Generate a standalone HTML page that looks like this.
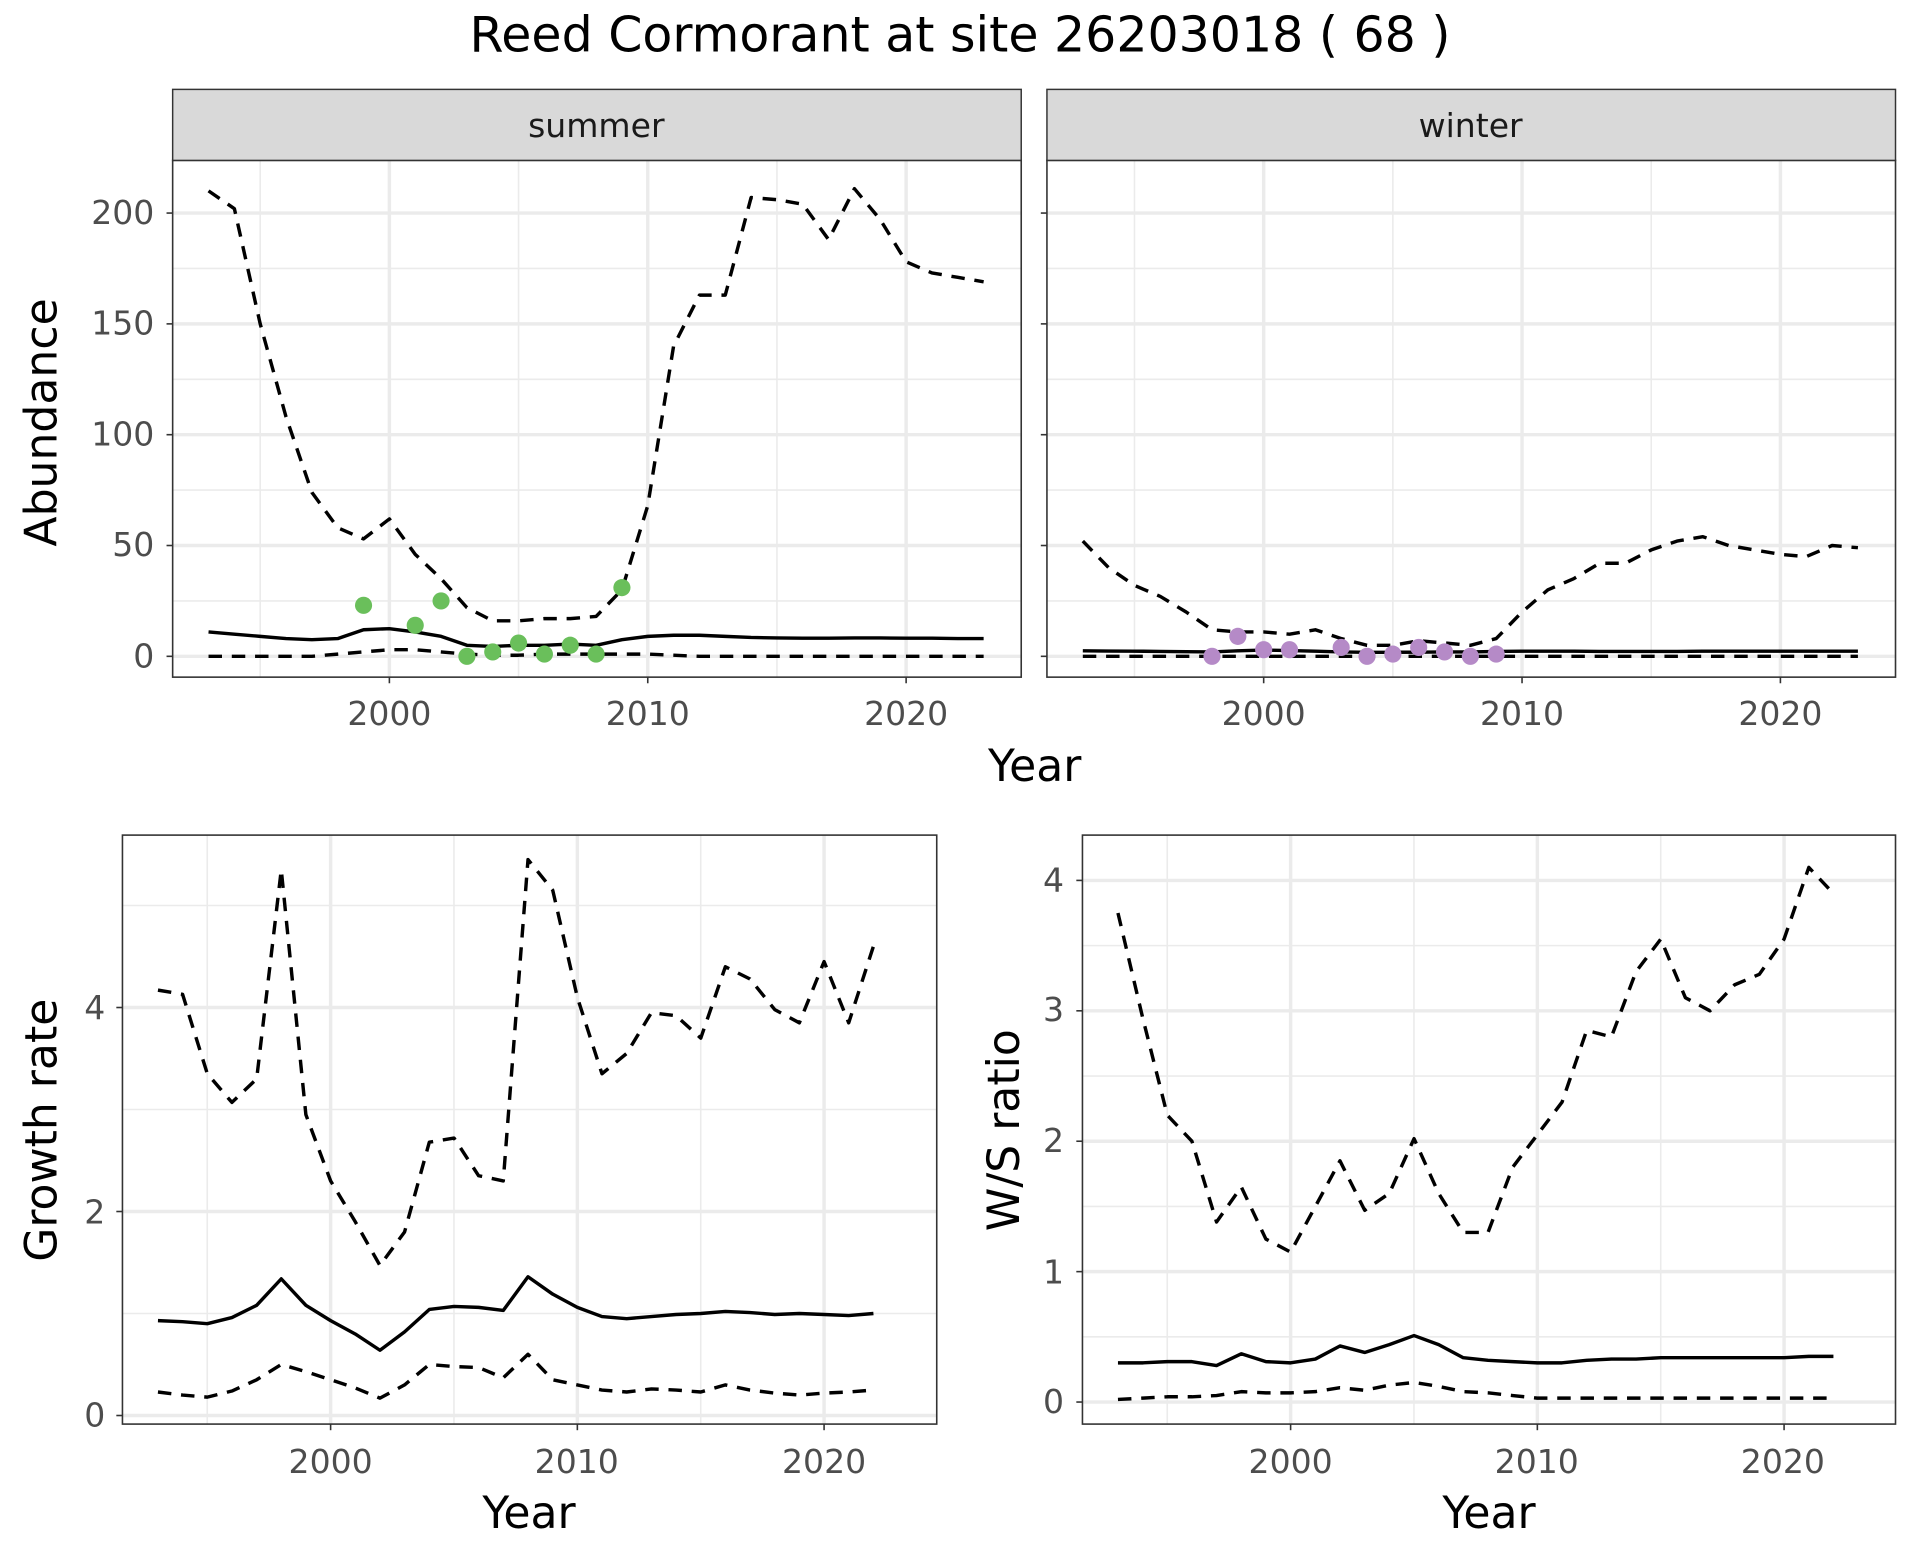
<!DOCTYPE html>
<html><head><meta charset="utf-8"><style>
html,body{margin:0;padding:0;background:#fff}
svg{display:block}
text{font-family:"DejaVu Sans","Liberation Sans",sans-serif}
</style></head><body>
<svg id="s" width="1920" height="1560" viewBox="0 0 1568 1274" xmlns="http://www.w3.org/2000/svg">
<rect width="1568" height="1274" fill="#fff"/>
<text x="784" y="42" font-size="40" text-anchor="middle">Reed Cormorant at site 26203018 ( 68 )</text>
<g id="g"></g>
<rect x="141" y="73" width="693" height="58" fill="#d9d9d9" stroke="#333" stroke-width="1.2"/>
<rect x="855" y="73" width="693" height="58" fill="#d9d9d9" stroke="#333" stroke-width="1.2"/>
<text x="487" y="112" font-size="27" text-anchor="middle" fill="#1a1a1a">summer</text>
<text x="1201" y="112" font-size="27" text-anchor="middle" fill="#1a1a1a">winter</text>
<g font-size="27" fill="#4d4d4d" text-anchor="end">
<text x="126" y="183">200</text><text x="126" y="273">150</text><text x="126" y="364">100</text><text x="126" y="454">50</text><text x="126" y="545">0</text>
<text x="86" y="832">4</text><text x="86" y="999">2</text><text x="86" y="1165">0</text>
<text x="869" y="728">4</text><text x="869" y="834">3</text><text x="869" y="941">2</text><text x="869" y="1048">1</text><text x="869" y="1154">0</text>
</g>
<g font-size="27" fill="#4d4d4d" text-anchor="middle">
<text x="318" y="592">2000</text><text x="529" y="592">2010</text><text x="740" y="592">2020</text>
<text x="1032" y="592">2000</text><text x="1243" y="592">2010</text><text x="1454" y="592">2020</text>
<text x="270" y="1203">2000</text><text x="471" y="1203">2010</text><text x="673" y="1203">2020</text>
<text x="1054" y="1203">2000</text><text x="1255" y="1203">2010</text><text x="1456" y="1203">2020</text>
</g>
<g font-size="36" fill="#000" text-anchor="middle">
<text x="845" y="638">Year</text>
<text x="432" y="1248">Year</text>
<text x="1216" y="1248">Year</text>
<text transform="translate(46,345) rotate(-90)">Abundance</text>
<text transform="translate(46,923) rotate(-90)">Growth rate</text>
<text transform="translate(832,923) rotate(-90)">W/S ratio</text>
</g>
</svg>
<script>
const NS="http://www.w3.org/2000/svg",G=document.getElementById('g');
function el(t,a){const e=document.createElementNS(NS,t);for(const k in a)e.setAttribute(k,a[k]);G.appendChild(e);return e;}
function panel(p){
 const {x0,x1,y0,y1,xs,ys}=p;
 el('rect',{x:x0,y:y0,width:x1-x0,height:y1-y0,fill:'#fff'});
 p.minorY.forEach(v=>{const y=ys(v);el('line',{x1:x0,x2:x1,y1:y,y2:y,stroke:'#ebebeb','stroke-width':1.3})});
 p.minorX.forEach(v=>{const x=xs(v);el('line',{x1:x,x2:x,y1:y0,y2:y1,stroke:'#ebebeb','stroke-width':1.3})});
 p.majY.forEach(v=>{const y=ys(v);el('line',{x1:x0,x2:x1,y1:y,y2:y,stroke:'#ebebeb','stroke-width':2.8});el('line',{x1:x0-5,x2:x0,y1:y,y2:y,stroke:'#333','stroke-width':1.3})});
 p.majX.forEach(v=>{const x=xs(v);el('line',{x1:x,x2:x,y1:y0,y2:y1,stroke:'#ebebeb','stroke-width':2.8});el('line',{x1:x,x2:x,y1:y1,y2:y1+5,stroke:'#333','stroke-width':1.3})});
 p.series.forEach(s=>{
  const d=s.v.map((v,i)=>(i?'L':'M')+xs(s.s+i).toFixed(1)+','+ys(v).toFixed(1)).join('');
  const a={d:d,fill:'none',stroke:'#000','stroke-width':2.8,'stroke-linejoin':'round'};
  if(s.dash)a['stroke-dasharray']='11 8';
  el('path',a);
 });
 (p.pts||[]).forEach(q=>el('circle',{cx:xs(q[0]),cy:ys(q[1]),r:7,fill:p.pc}));
 el('rect',{x:x0,y:y0,width:x1-x0,height:y1-y0,fill:'none',stroke:'#333','stroke-width':1.3});
}
const yr=[2000,2010,2020],yrm=[1995,2005,2015];
const ysA=v=>536-v*1.81;
const sumU=[210,202,150,108,74,58,53,62,46,35,22,16,16,17,17,18,30,68,140,163,163,207,206,204,188,211,197,178,173,171,169];
const sumM=[11,10,9,8,7.5,8,12,12.5,11,9,5,4.5,5,5,5.5,5,7.5,9,9.5,9.5,9,8.5,8.3,8.2,8.2,8.3,8.3,8.2,8.2,8,8];
const sumL=[0,0,0,0,0,1,2,3,3,2,1,0.5,0.5,1,1,1,1,1,0.5,0,0,0,0,0,0,0,0,0,0,0,0];
const winU=[52,40,32,27,20,12,11,11,10,12,8,5,5,7,6,5,8,20,30,35,42,42,48,52,54,50,48,46,45,50,49];
const winM=[2.5,2.4,2.3,2.2,2.1,2,2.5,2.8,2.6,2.3,2,1.8,1.8,1.9,2,2,2.2,2.3,2.3,2.3,2.2,2.2,2.2,2.2,2.3,2.3,2.3,2.3,2.3,2.3,2.3];
const winL=Array(31).fill(0);
panel({x0:141,x1:834,y0:131,y1:553,xs:v=>318+(v-2000)*21.1,ys:ysA,majY:[0,50,100,150,200],minorY:[25,75,125,175],majX:yr,minorX:yrm,
 series:[{s:1993,v:sumU,dash:1},{s:1993,v:sumM},{s:1993,v:sumL,dash:1}],pc:'#6abf5b',
 pts:[[1999,23],[2001,14],[2002,25],[2003,0],[2004,2],[2005,6],[2006,1],[2007,5],[2008,1],[2009,31]]});
panel({x0:855,x1:1548,y0:131,y1:553,xs:v=>1032+(v-2000)*21.1,ys:ysA,majY:[0,50,100,150,200],minorY:[25,75,125,175],majX:yr,minorX:yrm,
 series:[{s:1993,v:winU,dash:1},{s:1993,v:winM},{s:1993,v:winL,dash:1}],pc:'#b58ac7',
 pts:[[1998,0],[1999,9],[2000,3],[2001,3],[2003,4],[2004,0],[2005,1],[2006,4],[2007,2],[2008,0],[2009,1]]});
const gU=[4.17,4.13,3.35,3.07,3.3,5.35,2.95,2.3,1.9,1.47,1.8,2.68,2.72,2.35,2.3,5.45,5.15,4.1,3.35,3.55,3.95,3.92,3.7,4.4,4.28,3.98,3.85,4.45,3.85,4.6];
const gM=[0.93,0.92,0.9,0.96,1.08,1.34,1.08,0.93,0.8,0.64,0.82,1.04,1.07,1.06,1.03,1.36,1.19,1.06,0.97,0.95,0.97,0.99,1.0,1.02,1.01,0.99,1.0,0.99,0.98,1.0];
const gL=[0.23,0.2,0.18,0.24,0.35,0.5,0.43,0.35,0.27,0.17,0.3,0.5,0.48,0.47,0.37,0.6,0.35,0.3,0.25,0.23,0.26,0.25,0.23,0.3,0.25,0.22,0.2,0.22,0.23,0.25];
panel({x0:100,x1:765,y0:682,y1:1163,xs:v=>270+(v-2000)*20.15,ys:v=>1156-v*83.3,majY:[0,2,4],minorY:[1,3,5],majX:yr,minorX:yrm,
 series:[{s:1993,v:gU,dash:1},{s:1993,v:gM},{s:1993,v:gL,dash:1}]});
const wU=[3.75,2.95,2.2,2.0,1.38,1.65,1.25,1.15,1.5,1.85,1.47,1.6,2.02,1.6,1.3,1.3,1.8,2.05,2.3,2.85,2.8,3.3,3.55,3.1,3.0,3.2,3.28,3.55,4.1,3.9];
const wM=[0.3,0.3,0.31,0.31,0.28,0.37,0.31,0.3,0.33,0.43,0.38,0.44,0.51,0.44,0.34,0.32,0.31,0.3,0.3,0.32,0.33,0.33,0.34,0.34,0.34,0.34,0.34,0.34,0.35,0.35];
const wL=[0.02,0.03,0.04,0.04,0.05,0.08,0.07,0.07,0.08,0.11,0.09,0.13,0.15,0.12,0.08,0.07,0.05,0.03,0.03,0.03,0.03,0.03,0.03,0.03,0.03,0.03,0.03,0.03,0.03,0.03];
panel({x0:884,x1:1548,y0:682,y1:1163,xs:v=>1054+(v-2000)*20.15,ys:v=>1145-v*106.5,majY:[0,1,2,3,4],minorY:[0.5,1.5,2.5,3.5],majX:yr,minorX:yrm,
 series:[{s:1993,v:wU,dash:1},{s:1993,v:wM},{s:1993,v:wL,dash:1}]});
</script>
</body></html>
